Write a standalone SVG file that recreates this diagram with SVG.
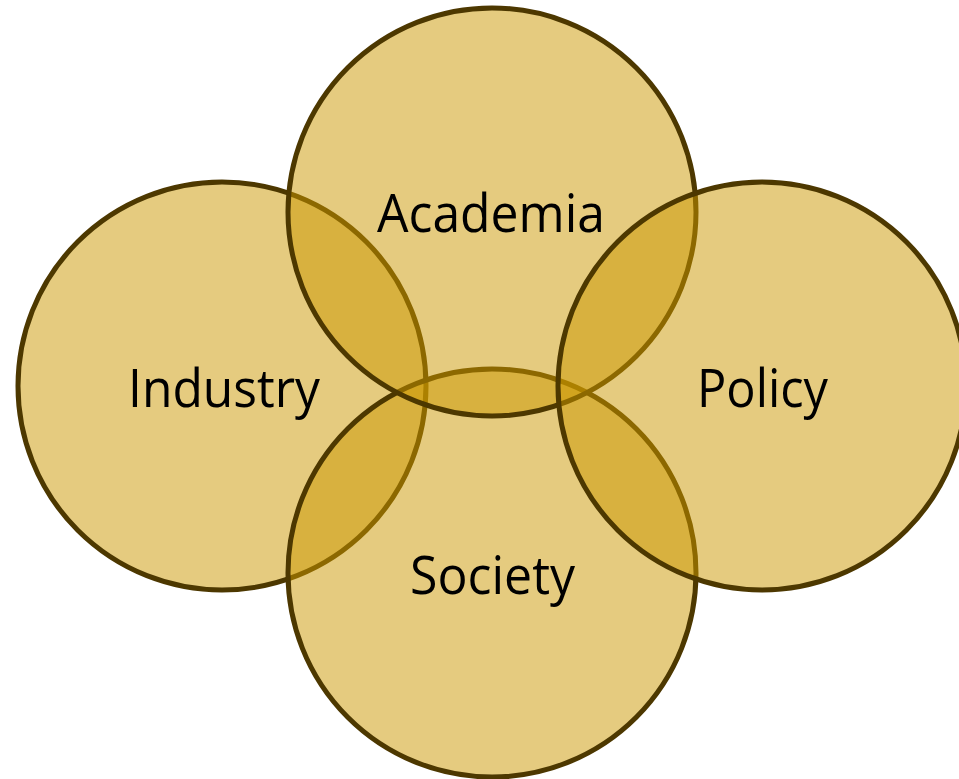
<svg xmlns="http://www.w3.org/2000/svg" width="959" height="779" viewBox="0 0 959 779">
<style>
.c{fill:#CB9700;fill-opacity:0.5;stroke:#4D3800;stroke-width:5}
.t{font-family:"Open Sans","Noto Sans","Liberation Sans",sans-serif;font-size:53px;fill:#000;text-anchor:middle}
</style>
<rect width="959" height="779" fill="#fff"/>
<g id="industry"><circle class="c" cx="222" cy="386" r="204"/><text class="t" x="224" y="407" textLength="192" lengthAdjust="spacingAndGlyphs">Industry</text></g>
<g id="society"><circle class="c" cx="492" cy="573" r="204"/><text class="t" x="492.5" y="594" textLength="165" lengthAdjust="spacingAndGlyphs">Society</text></g>
<g id="academia"><circle class="c" cx="492" cy="212" r="204"/><text class="t" x="491" y="232" textLength="228" lengthAdjust="spacingAndGlyphs">Academia</text></g>
<g id="policy"><circle class="c" cx="762" cy="386" r="204"/><text class="t" x="762.5" y="407" textLength="131" lengthAdjust="spacingAndGlyphs">Policy</text></g>
<g id="connectors"/>
</svg>
